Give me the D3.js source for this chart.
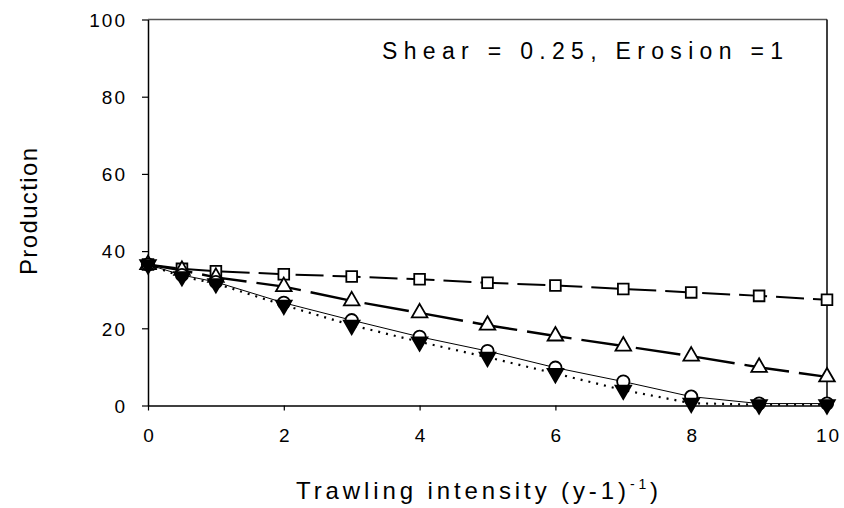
<!DOCTYPE html>
<html>
<head>
<meta charset="utf-8">
<script src="https://cdn.jsdelivr.net/npm/d3@7"></script>
<style>
  body { margin: 0; background: #fff; }
  svg { display: block; font-family: Arial, "Liberation Sans", sans-serif; }
</style>
</head>
<body>
<div id="chart"></div>
<script>
// --------------------------------------------------
// data

const intensity = [0, 0.5, 1, 2, 3, 4, 5, 6, 7, 8, 9, 10];
const squares   = [36.5, 35.4, 34.8, 34.0, 33.4, 32.7, 31.8, 31.1, 30.2, 29.3, 28.4, 27.4];
const triangles = [36.5, 35.0, 33.2, 30.8, 27.1, 24.0, 20.8, 18.0, 15.4, 12.8, 9.9, 7.4];
const circles   = [36.5, 33.8, 32.0, 26.6, 22.1, 17.8, 14.1, 9.8, 6.2, 2.3, 0.5, 0.5];
const filled    = [36.5, 33.4, 31.6, 26.0, 20.8, 16.5, 12.5, 8.3, 4.0, 0.6, 0.2, 0.2];

const xTicks = [0, 2, 4, 6, 8, 10];
const yTicks = [0, 20, 40, 60, 80, 100];

// --------------------------------------------------

const width = 844, height = 508;
const x = d3.scaleLinear().domain([0, 10]).range([148, 827]);
const y = d3.scaleLinear().domain([0, 100]).range([405.5, 19.5]);

const svg = d3.select('#chart').append('svg')
  .attr('width', width)
  .attr('height', height);

// stretch letter spacing so the text covers a given width
function fit(text, w)
{
  let node = text.node();
  let n = node.getNumberOfChars();
  let len = node.getComputedTextLength();
  text.attr('letter-spacing', ((w - len) / (n - 1)).toFixed(2) + 'px');
  return text;
}

// frame
svg.append('line')
  .attr('x1', x(0)).attr('x2', x(10))
  .attr('y1', y(100)).attr('y2', y(100))
  .attr('stroke', '#555').attr('stroke-width', 1.5);
svg.append('line')
  .attr('x1', x(10)).attr('x2', x(10))
  .attr('y1', y(100)).attr('y2', y(0))
  .attr('stroke', '#000').attr('stroke-width', 1.5);

// axes
let yAxis = svg.append('g')
  .attr('transform', `translate(${x(0)},0)`)
  .call(d3.axisLeft(y).tickValues(yTicks).tickSize(6).tickSizeOuter(0).tickPadding(15));
let xAxis = svg.append('g')
  .attr('transform', `translate(0,${y(0)})`)
  .call(d3.axisBottom(x).tickValues(xTicks).tickSize(5).tickSizeOuter(0).tickPadding(16));

[yAxis, xAxis].forEach(function (g)
{
  g.select('.domain').attr('stroke', '#000').attr('stroke-width', 1.5);
  g.selectAll('.tick line').attr('stroke', '#000').attr('stroke-width', 1.2);
  g.selectAll('.tick text')
    .attr('fill', '#000')
    .style('font-size', '19px')
    .attr('letter-spacing', '2px');
});
yAxis.selectAll('.tick text').attr('dy', '0.36em');
xAxis.selectAll('.tick text').attr('dy', '0.8em').attr('dx', '1px');

// series
const series = [
  { values: squares,   symbol: d3.symbolSquare,   size: 115, fill: '#fff', rotate: 0,   dash: '28,9',  lw: 2 },
  { values: triangles, symbol: d3.symbolTriangle, size: 105, fill: '#fff', rotate: 0,   dash: '45,10', lw: 2.4 },
  { values: circles,   symbol: d3.symbolCircle,   size: 120, fill: '#fff', rotate: 0,   dash: null,    lw: 1 },
  { values: filled,    symbol: d3.symbolTriangle, size: 105, fill: '#000', rotate: 180, dash: '2,6',   lw: 2.2 }
];

const line = d3.line()
  .x((d, i) => x(intensity[i]))
  .y(d => y(d));

series.forEach(function (s)
{
  svg.append('path')
    .datum(s.values)
    .attr('d', line)
    .attr('fill', 'none')
    .attr('stroke', '#000')
    .attr('stroke-width', s.lw)
    .attr('stroke-dasharray', s.dash);
});

series.forEach(function (s)
{
  svg.append('g')
    .selectAll('path')
    .data(s.values)
    .enter()
    .append('path')
    .attr('d', d3.symbol().type(s.symbol).size(s.size))
    .attr('transform', (d, i) => `translate(${x(intensity[i])},${y(d)}) rotate(${s.rotate})`)
    .attr('fill', s.fill)
    .attr('stroke', '#000')
    .attr('stroke-width', 1.8);
});

// labels
fit(svg.append('text')
  .attr('x', 382).attr('y', 59)
  .style('font-size', '23px')
  .text('Shear = 0.25, Erosion =1'), 401);

let xl = svg.append('text')
  .attr('x', 296).attr('y', 499)
  .style('font-family', '"Liberation Sans Narrow", Arial, sans-serif')
  .style('font-size', '24px');
xl.append('tspan').text('Trawling intensity  (y-1)');
xl.append('tspan').attr('dy', -10).style('font-size', '14px').text('-1');
xl.append('tspan').attr('dy', 10).text(')');
fit(xl, 362);

fit(svg.append('text')
  .attr('transform', 'translate(37,275) rotate(-90)')
  .style('font-size', '24px')
  .text('Production'), 127);
</script>
</body>
</html>
